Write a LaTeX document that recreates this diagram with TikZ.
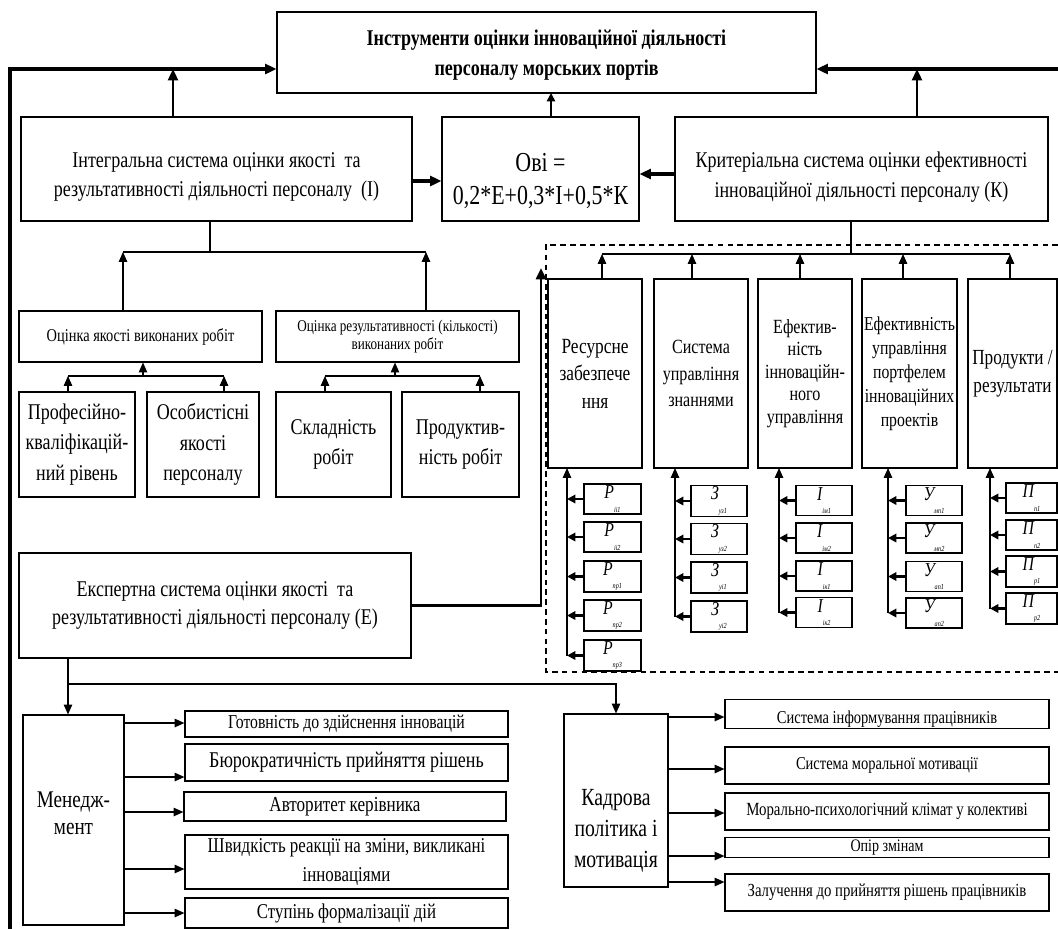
\documentclass[tikz,border=0pt]{standalone}
\usepackage{fontspec}
\setmainfont{Liberation Serif}[FakeStretch=0.8]
\usetikzlibrary{arrows.meta}

\newcommand{\pxu}{0.025cm}
\newcommand{\fsz}[2]{\fontsize{#1}{#2}\selectfont}
\newcommand{\idx}[2]{{\itshape #1}\raisebox{-1.5ex}{\fsz{5.5}{5.5}\itshape #2}}
% invisible struts that push a text block down / up inside its box
\newcommand{\dn}[1]{\rule{0pt}{#1}}
\newcommand{\up}[1]{\rule[-#1]{0pt}{#1}}

\begin{document}
\begin{tikzpicture}[x=0.025cm, y=-0.025cm,
    box/.style={draw, line width=0.8pt, inner sep=1pt, align=center},
    sz/.style 2 args={minimum width=#1*\pxu, minimum height=#2*\pxu},
    sub/.style={box, sz={56}{30}, font=\fsz{14}{14}},
    link/.style={line width=0.8pt},
    arr/.style={-{Triangle[length=7pt,width=6pt]}, line width=0.8pt},
    midarr/.style={-{Triangle[length=6pt,width=6pt]}, line width=1.8pt},
    fatarr/.style={-{Triangle[length=8pt,width=7pt]}, line width=2.6pt}]

    \useasboundingbox (0,0) rectangle (1058,929);

    % top row
    \node[box, sz={539}{81}, font=\bfseries\fsz{16}{21}] (title) at (546.5,52.5)
        {\dn{15pt}Інструменти оцінки інноваційної діяльності\\персоналу морських портів};
    \node[box, sz={391}{104}, font=\fsz{16}{20}] (integral) at (216.5,169)
        {\dn{22pt}Інтегральна система оцінки якості~ та\\результативності діяльності персоналу~ (І)};
    \node[box, sz={197}{104}, font=\fsz{19.5}{24}] (formula) at (540.5,169)
        {\dn{30pt}Овi =\\0,2*Е+0,3*І+0,5*К};
    \node[box, sz={373}{104}, font=\fsz{16}{21}] (criterion) at (861.5,169)
        {\dn{23pt}Критеріальна система оцінки ефективності\\інноваційної діяльності персоналу (К)};

    \coordinate (lb) at (10,929);
    \coordinate (lt) at (10,69);
    \coordinate (rt) at (1058,69);
    \coordinate (iu) at (173,69);
    \coordinate (ku) at (917,69);
    \coordinate (fu) at (551,93);
    \coordinate (ie) at (0,181);
    \coordinate (ke) at (0,174);
    \draw[fatarr] (lb) -- (lt) -- (lt -| title.west);
    \draw[fatarr] (rt) -- (rt -| title.east);
    \draw[fatarr, line width=1.8pt] (iu |- integral.north) -- (iu);
    \draw[fatarr, line width=1.8pt] (ku |- criterion.north) -- (ku);
    \draw[midarr, line width=1.2pt] (fu |- formula.north) -- (fu);
    \draw[fatarr] (integral.east |- ie) -- (formula.west |- ie);
    \draw[fatarr] (criterion.west |- ke) -- (formula.east |- ke);

    % integral system
    \node[box, sz={243}{51}, font=\fsz{12.8}{14}] (quality) at (140.5,336.5) {Оцінка якості виконаних робіт};
    \node[box, sz={243}{51}, font=\fsz{11.7}{12.5}] (result) at (397.5,336.5)
        {Оцінка результативності (кількості)\\виконаних робіт};
    \node[box, sz={116}{105}, font=\fsz{16}{21.5}] (prof) at (77,444.5) {Професійно-\\кваліфікацій-\\ний рівень};
    \node[box, sz={112}{105}, font=\fsz{16}{21.5}] (pers) at (203,444.5) {Особистісні\\якості\\персоналу};
    \node[box, sz={115}{105}, font=\fsz{16}{21.5}] (sklad) at (333.5,444.5) {Складність\\робіт};
    \node[box, sz={117}{105}, font=\fsz{16}{21.5}] (prod) at (460.5,444.5) {Продуктив-\\ність робіт};

    \coordinate (ib) at (210,252);
    \coordinate (qa) at (123,252);
    \coordinate (ra) at (426,252);
    \draw[link] (integral.south -| ib) -- (ib);
    \draw[link] (qa) -- (ra);
    \draw[arr] (qa |- quality.north) -- (qa);
    \draw[arr] (ra |- result.north) -- (ra);

    \coordinate (q1) at (68,376);
    \coordinate (q2) at (224,376);
    \coordinate (qm) at (143,376);
    \coordinate (s1) at (325,376);
    \coordinate (s2) at (480,376);
    \coordinate (sm) at (395,376);
    \draw[link] (q1) -- (q2);
    \draw[link] (s1) -- (s2);
    \draw[arr] (q1 |- prof.north) -- (q1);
    \draw[arr] (q2 |- pers.north) -- (q2);
    \draw[arr] (s1 |- sklad.north) -- (s1);
    \draw[arr] (s2 |- prod.north) -- (s2);
    \draw[arr] (qm) -- (qm |- quality.south);
    \draw[arr] (sm) -- (sm |- result.south);

    % criterial system
    \draw[dashed, dash pattern=on 4pt off 3pt, line width=0.8pt] (1058,245) -- (546,245) -- (546,672) -- (1058,672);
    \node[box, sz={94}{189}, font=\fsz{15.4}{19.5}] (c1) at (595,373.5) {Ресурсне\\забезпече\\ння};
    \node[box, sz={94}{189}, font=\fsz{14.3}{19}] (c2) at (701,373.5) {Система\\управління\\знаннями};
    \node[box, sz={94}{189}, font=\fsz{14.3}{16}] (c3) at (805,373.5) {Ефектив-\\ність\\інноваційн-\\ного\\управління};
    \node[box, sz={95}{189}, font=\fsz{14}{17}] (c4) at (909.5,373.5) {Ефективність\\управління\\портфелем\\інноваційних\\проектів};
    \node[box, sz={89}{189}, font=\fsz{15.3}{20}] (c5) at (1012.5,373.5) {Продукти /\\результати};

    \coordinate (kb) at (851,254);
    \coordinate (ka) at (602,254);
    \coordinate (kz) at (1010,254);
    \draw[link] (criterion.south -| kb) -- (kb);
    \draw[link] (ka) -- (kz);
    \foreach \n/\x in {c1/602, c2/692, c3/800, c4/903, c5/1010}
        \draw[arr] (\n.north -| \x,0) -- (\x,254);

    \foreach \n/\y/\lbl in {p1/499/іі1, p2/537/іі2, p3/576.5/пр1, p4/615.5/пр2, p5/655.5/пр3}
        \node[sub, minimum width=57*\pxu] (\n) at (612.5,\y) {\idx{Р}{\lbl}};
    \foreach \n/\y/\lbl in {z1/501/уз1, z2/539/уз2, z3/577.5/уі1, z4/616.5/уі2}
        \node[sub] (\n) at (719,\y) {\idx{З}{\lbl}};
    \foreach \n/\y/\lbl in {i1/500.5/ім1, i2/538/ім2, i3/576/ік1, i4/612.5/ік2}
        \node[sub] (\n) at (824,\y) {\idx{І}{\lbl}};
    \foreach \n/\y/\lbl in {u1/500.5/мп1, u2/538/мп2, u3/576.5/ап1, u4/613/ап2}
        \node[sub] (\n) at (934,\y) {\idx{У}{\lbl}};
    \foreach \n/\y/\lbl in {n1/498/п1, n2/535/п2, n3/571.5/р1, n4/608.5/р2}
        \node[sub, minimum width=51*\pxu] (\n) at (1031.5,\y) {\idx{П}{\lbl}};

    \coordinate (v1) at (567,468);
    \coordinate (v2) at (675,468);
    \coordinate (v3) at (779,468);
    \coordinate (v4) at (888,468);
    \coordinate (v5) at (990,468);
    \draw[arr] (p5.west -| v1) -- (v1);
    \draw[arr] (z4.west -| v2) -- (v2);
    \draw[arr] (i4.west -| v3) -- (v3);
    \draw[arr] (u4.west -| v4) -- (v4);
    \draw[arr] (n4.west -| v5) -- (v5);
    \foreach \n in {p1, p2, p3, p4, p5}
        \draw[midarr] (\n.west) -- (\n.west -| v1);
    \foreach \n in {z1, z2, z3, z4}
        \draw[midarr] (\n.west) -- (\n.west -| v2);
    \foreach \n in {i1, i2, i3, i4}
        \draw[midarr] (\n.west) -- (\n.west -| v3);
    \foreach \n in {u1, u2, u3, u4}
        \draw[midarr] (\n.west) -- (\n.west -| v4);
    \foreach \n in {n1, n2, n3, n4}
        \draw[midarr] (\n.west) -- (\n.west -| v5);

    % expert system
    \node[box, sz={392}{105}, font=\fsz{16}{20}] (expert) at (215,605.5)
        {Експертна система оцінки якості~ та\\результативності діяльності персоналу (Е)};
    \coordinate (eu) at (541,268);
    \draw[fatarr, line width=2pt] (expert.east) -- (expert.east -| eu) -- (eu);

    \node[box, sz={101}{210}, font=\fsz{17}{19}] (mgmt) at (73.5,820) {Менедж-\\мент\up{10pt}};
    \node[box, sz={104}{173}, font=\fsz{17.5}{22}] (kadr) at (616,800.5) {\dn{54pt}Кадрова\\політика і\\мотивація};
    \coordinate (ed) at (68,684);
    \draw[arr] (ed |- expert.south) -- (ed |- mgmt.north);
    \draw[arr] (ed) -- (ed -| kadr.north) -- (kadr.north);

    \node[box, sz={323}{26}, font=\fsz{14}{15}] (g1) at (346.5,724) {Готовність до здійснення інновацій};
    \node[box, sz={323}{37}, font=\fsz{16}{17}] (g2) at (346.5,762.5) {Бюрократичність прийняття рішень};
    \node[box, sz={322}{29}, font=\fsz{15.2}{16}] (g3) at (345,806.5) {Авторитет керівника};
    \node[box, sz={323}{54}, font=\fsz{15}{21}] (g4) at (346.5,862) {Швидкість реакції на зміни, викликані\\інноваціями};
    \node[box, sz={323}{30}, font=\fsz{15}{16}] (g5) at (346.5,913) {Ступінь формалізації дій};
    \foreach \n/\y in {g1/723, g2/777, g3/812, g4/869, g5/913}
        \draw[arr, line width=1pt] (mgmt.east |- 0,\y) -- (\n.west |- 0,\y);

    \node[box, sz={324}{28}, font=\fsz{12.9}{14}] (k1) at (887,714) {\dn{16pt}Система інформування працівників};
    \node[box, sz={324}{37}, font=\fsz{12.9}{14}] (k2) at (887,765.5) {Система моральної мотивації};
    \node[box, sz={324}{37}, font=\fsz{13.2}{14}] (k3) at (887,811.5) {Морально-психологічний клімат у колективі};
    \node[box, sz={324}{20}, font=\fsz{12.5}{13}] (k4) at (887,847.5) {Опір змінам};
    \node[box, sz={324}{37}, font=\fsz{13.1}{14}] (k5) at (887,892.5) {Залучення до прийняття рішень працівників};
    \foreach \n/\y in {k1/717, k2/769, k3/813, k4/856, k5/882}
        \draw[arr, line width=1pt] (kadr.east |- 0,\y) -- (\n.west |- 0,\y);
\end{tikzpicture}
\end{document}
